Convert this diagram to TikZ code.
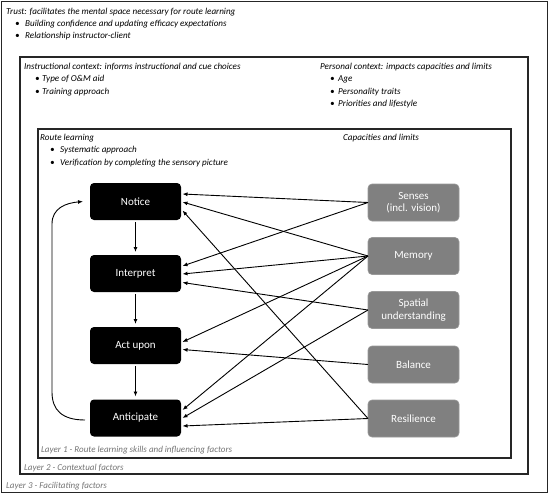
\documentclass[tikz,border=0pt]{standalone}
\usepackage{fontspec}
\setmainfont{Carlito}
\usetikzlibrary{arrows.meta,calc}
\begin{document}
\begin{tikzpicture}[x=1pt,y=-1pt,
 frame/.style={draw=black!85, line width=1.3pt},
 lbl/.style={anchor=base west, inner sep=0pt, font=\fontsize{9.1}{11}\selectfont\itshape},
 layerlbl/.style={anchor=base west, inner sep=0pt, font=\fontsize{9}{10}\selectfont\itshape, text=black!55},
 skill/.style={draw=none, fill=black, rounded corners=4pt, minimum width=91pt, minimum height=37pt, inner sep=0pt, outer sep=0pt, text=white, font=\fontsize{11}{13}\selectfont},
 capbox/.style={draw=black!40, line width=0.6pt, fill=black!50, rounded corners=4pt, minimum width=91pt, minimum height=37pt, inner sep=0pt, outer sep=0pt, text=white!95, font=\fontsize{11}{12.5}\selectfont, align=center},
 arr/.style={-{Latex[length=5pt,width=4pt]}, line width=0.9pt, black},
]
\newcommand{\bul}[2]{\makebox[#1pt][l]{\textbullet}#2}
\useasboundingbox (0,0) rectangle (550,496);
% frames
\draw[frame] (1.5,1.5) rectangle (547.5,492.5);
\draw[frame] (20,57) rectangle (528,474);
\draw[frame] (38,129) rectangle (511,458);
% layer 3 text
\node[lbl] (trust) at (6,14.5) {Trust: facilitates the mental space necessary for route learning};
\node[lbl] (t1) at (15,26.5) {\bul{10}{Building confidence and updating efficacy expectations}};
\node[lbl] (t2) at (15,38) {\bul{10}{Relationship instructor-client}};
% layer 2 text
\node[lbl] (instr) at (24,69) {Instructional context: informs instructional and cue choices};
\node[lbl] (i1) at (35,81.5) {\bul{7}{Type of O\&M aid}};
\node[lbl] (i2) at (35,94) {\bul{7}{Training approach}};
\node[lbl] (pers) at (320,69) {Personal context: impacts capacities and limits};
\node[lbl] (p1) at (330,81.5) {\bul{8}{Age}};
\node[lbl] (p2) at (330,94) {\bul{8}{Personality traits}};
\node[lbl] (p3) at (330,106.5) {\bul{8}{Priorities and lifestyle}};
% layer 1 text
\node[lbl] (route) at (40,140) {Route learning};
\node[lbl] (r1) at (50,152.5) {\bul{10}{Systematic approach}};
\node[lbl] (r2) at (50,165) {\bul{10}{Verification by completing the sensory picture}};
\node[lbl] (caps) at (343,140) {Capacities and limits};
% layer labels
\node[layerlbl] (l1) at (41,452) {Layer 1 - Route learning skills and influencing factors};
\node[layerlbl] (l2) at (24,470.5) {Layer 2 - Contextual factors};
\node[layerlbl] (l3) at (6,488) {Layer 3 - Facilitating factors};
% skill nodes
\node[skill] (notice) at (135.5,201.5) {Notice};
\node[skill] (interp) at (135.5,273.5) {Interpret};
\node[skill] (act) at (135.5,345.5) {Act upon};
\node[skill] (antic) at (135.5,418) {Anticipate};
% capacity nodes
\node[capbox] (senses) at (413.5,202.5) {Senses\\(incl. vision)};
\node[capbox] (memory) at (413.5,256) {Memory};
\node[capbox] (spatial) at (413.5,310) {Spatial\\understanding};
\node[capbox] (balance) at (413.5,364.5) {Balance};
\node[capbox] (resil) at (413.5,418.5) {Resilience};
% vertical chain
\draw[arr, shorten <=2pt, shorten >=3pt] (notice) -- (interp);
\draw[arr, shorten <=2pt, shorten >=3pt] (interp) -- (act);
\draw[arr, shorten <=2pt, shorten >=3pt] (act) -- (antic);
% loop
\coordinate (lb) at (52,392);
\coordinate (lt) at (52,224);
\draw[arr] ($(antic.west)+(-5,2)$) .. controls (62,420) and (52,410) .. (lb) -- (lt) .. controls (52,208) and (66,203) .. ($(notice.west)+(-7,0)$);
% influences
\draw[arr] (senses.west) -- ($(notice.east)+(1.5,-7.5)$);
\draw[arr] (memory.west) -- ($(notice.east)+(1.5,0.5)$);
\draw[arr] (resil.west) -- ($(notice.east)+(1.5,9)$);
\draw[arr] (senses.west) -- ($(interp.east)+(1.5,-7.5)$);
\draw[arr] (memory.west) -- ($(interp.east)+(1.5,0.5)$);
\draw[arr] (spatial.west) -- ($(interp.east)+(1.5,9)$);
\draw[arr] (memory.west) -- ($(act.east)+(1.5,-3.5)$);
\draw[arr] (balance.west) -- ($(act.east)+(1.5,4)$);
\draw[arr] (memory.west) -- ($(antic.east)+(1.5,-8)$);
\draw[arr] (spatial.west) -- ($(antic.east)+(1.5,0)$);
\draw[arr] (resil.west) -- ($(antic.east)+(1.5,8)$);
\end{tikzpicture}
\end{document}
